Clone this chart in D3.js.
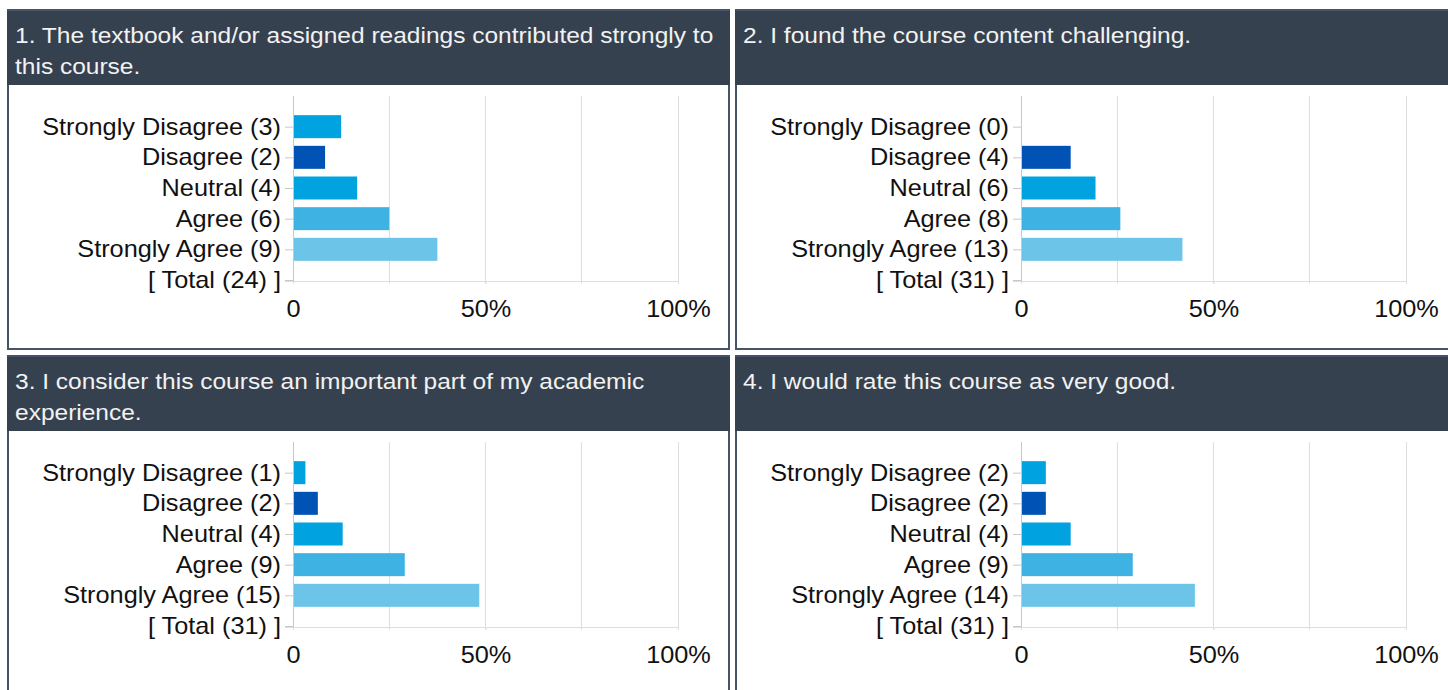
<!DOCTYPE html>
<html><head><meta charset="utf-8">
<script src="https://cdn.jsdelivr.net/npm/d3@7"></script>
<style>html,body{margin:0;padding:0;background:#fff;overflow:hidden}</style>
</head><body>
<script>
const categories = ["Strongly Disagree", "Disagree", "Neutral", "Agree", "Strongly Agree"];
const titles = [
  ["1. The textbook and/or assigned readings contributed strongly to", "this course."],
  ["2. I found the course content challenging."],
  ["3. I consider this course an important part of my academic", "experience."],
  ["4. I would rate this course as very good."]
];
const counts1 = [3, 2, 4, 6, 9];
const counts2 = [0, 4, 6, 8, 13];
const counts3 = [1, 2, 4, 9, 15];
const counts4 = [2, 2, 4, 9, 14];
const totals = [24, 31, 31, 31];
const tickLabels = ["0", "50%", "100%"];
const tickValues = [0, 0.5, 1];
const gridValues = [0, 0.25, 0.5, 0.75, 1];
const barColors = ["#00a3df", "#0052b4", "#00a3df", "#3fb2e4", "#6dc4e9"];

const series = [counts1, counts2, counts3, counts4];
const W = 1448, H = 690;
const FONT = "Arial, 'Liberation Sans', sans-serif";
const SX = 1.1;
const svg = d3.select("body").append("svg").attr("width", W).attr("height", H)
  .style("font-family", FONT);

const panelOrigins = [[7, 9], [735, 9], [7, 355], [735, 355]];
const panelW = 723, panelH = 341, headerH = 76;

series.forEach((counts, i) => {
  const [px, py] = panelOrigins[i];
  const g = svg.append("g").attr("transform", `translate(${px},${py})`);
  // border
  g.append("rect").attr("x", 1).attr("y", 1).attr("width", panelW - 2).attr("height", panelH - 2)
    .attr("fill", "#fff").attr("stroke", "#46546a").attr("stroke-width", 2);
  // header
  g.append("rect").attr("x", 0).attr("y", 0).attr("width", panelW).attr("height", headerH).attr("fill", "#36414f");
  g.append("rect").attr("x", 0).attr("y", 0).attr("width", panelW).attr("height", 2).attr("fill", "#46546a");
  titles[i].forEach((line, j) => {
    g.append("text").attr("fill", "#f2f2f2").attr("font-size", 21.5)
      .attr("transform", `translate(8,${33.5 + j * 31}) scale(1.14,1)`)
      .text(line);
  });

  const total = totals[i];
  const labels = categories.map((c, k) => `${c} (${counts[k]})`);
  const domain = ["_top"].concat(labels, [`[ Total (${total}) ]`]);
  const y = d3.scalePoint().domain(domain).range([87, 271]);
  const x = d3.scaleLinear().domain([0, 1]).range([286, 671]);
  const bh = 23;

  // gridlines
  g.selectAll(".grid").data(gridValues).enter().append("line")
    .attr("x1", d => x(d)).attr("x2", d => x(d)).attr("y1", 87).attr("y2", 275)
    .attr("stroke", d => d === 0 ? "#c8c8c8" : "#dedede").attr("stroke-width", 1)
    .attr("shape-rendering", "crispEdges");
  // baseline
  g.append("line").attr("x1", x(0) - 8).attr("x2", x(1)).attr("y1", 272).attr("y2", 272)
    .attr("stroke", "#dedede").attr("shape-rendering", "crispEdges");

  // bars
  g.selectAll(".bar").data(counts).enter().append("rect")
    .attr("x", x(0) + 1)
    .attr("y", (d, k) => y(labels[k]) - bh / 2)
    .attr("width", d => Math.max(0, x(d / total) - x(0) - 1))
    .attr("height", bh)
    .attr("fill", (d, k) => barColors[k]);

  // y axis
  const yAxis = d3.axisLeft(y).tickValues(domain.slice(1)).tickSize(8).tickPadding(2.9);
  const ya = g.append("g").attr("transform", `translate(${x(0)},0)`).call(yAxis);
  ya.select(".domain").remove();
  ya.selectAll(".tick line").attr("stroke", "#c8c8c8");
  ya.selectAll(".tick text").attr("fill", "#111").attr("font-size", 23)
    .attr("font-family", FONT).attr("dy", "0.32em")
    .attr("transform", `scale(${SX},1)`);

  // x axis
  const xAxis = d3.axisBottom(x).tickValues(tickValues).tickSize(3)
    .tickFormat((d, k) => tickLabels[k]);
  const xa = g.append("g").attr("transform", `translate(0,272)`).call(xAxis);
  xa.select(".domain").remove();
  xa.selectAll(".tick line").attr("stroke", "#dedede");
  xa.selectAll(".tick text").attr("fill", "#111").attr("font-size", 23)
    .attr("font-family", FONT).attr("y", 36).attr("dy", 0)
    .attr("transform", `scale(${SX},1)`);
});
</script>
</body></html>
